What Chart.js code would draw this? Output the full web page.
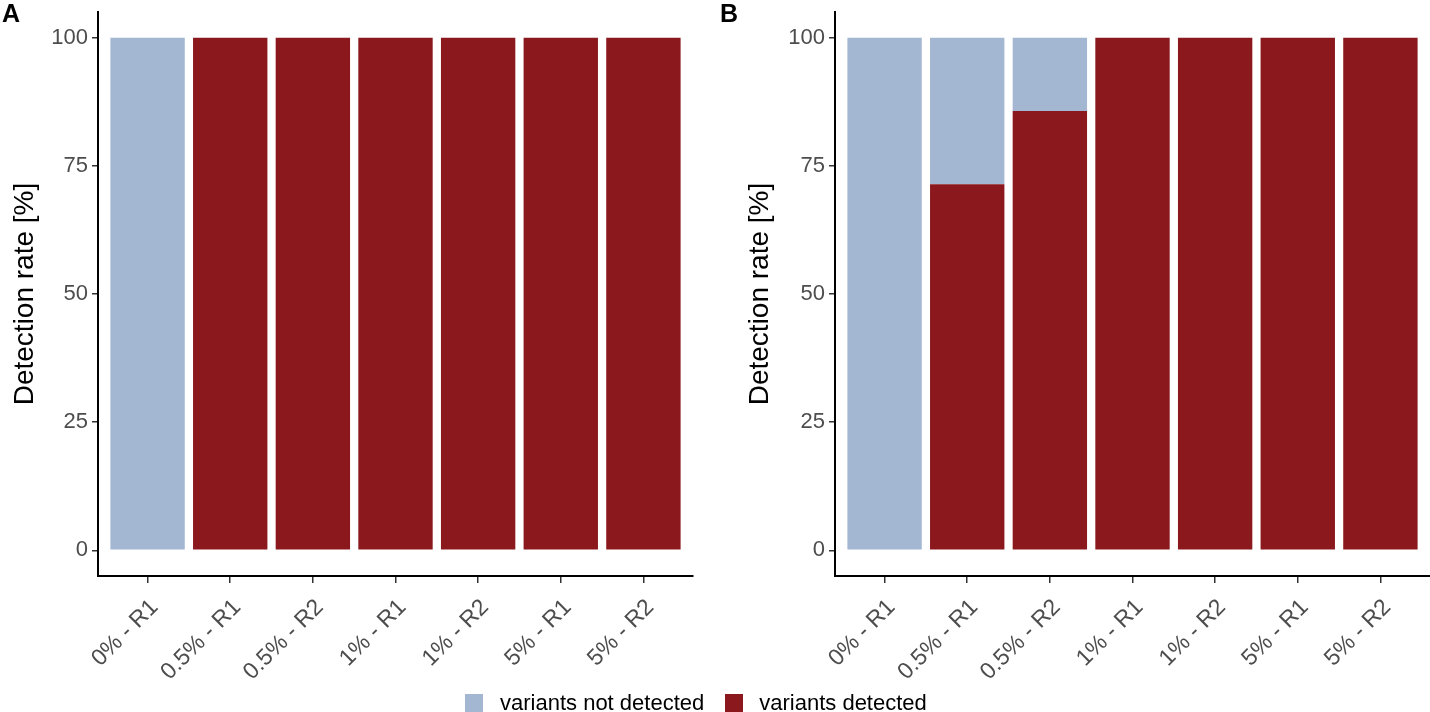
<!DOCTYPE html>
<html>
<head>
<meta charset="utf-8">
<script src="https://cdn.jsdelivr.net/npm/chart.js@4"></script>
<style>
  body { margin: 0; background: #fff; font-family: "Liberation Sans", Arial, sans-serif; }
  #wrap { position: relative; width: 1430px; height: 712px; overflow: hidden; }
  .panel { position: absolute; top: 0; width: 715px; height: 712px; }
  .tag { position: absolute; top: -1px; font-weight: bold; font-size: 25px; }
  #legend { position: absolute; left: 465px; top: 690px; display: flex; align-items: center; font-size: 22px; color: #000; }
  #legend span.box { width: 18px; height: 18px; display: inline-block; }
</style>
</head>
<body>
<div id="wrap">
  <div class="panel" style="left:0"><canvas id="chart-a"></canvas></div>
  <div class="panel" style="left:715px"><canvas id="chart-b"></canvas></div>
  <div class="tag" style="left:2px">A</div>
  <div class="tag" style="left:720px">B</div>
  <div id="legend">
    <span class="box" style="background:#a3b7d3"></span>
    <span style="margin-left:17px">variants not detected</span>
    <span class="box" style="background:#8b181c;margin-left:21px"></span>
    <span style="margin-left:16px">variants detected</span>
  </div>
</div>
<script>
const categories = ['0% - R1', '0.5% - R1', '0.5% - R2', '1% - R1', '1% - R2', '5% - R1', '5% - R2'];
const yTicks = [0, 25, 50, 75, 100];

// panel A
const detectedA = [0, 100, 100, 100, 100, 100, 100];
const notDetectedA = [100, 0, 0, 0, 0, 0, 0];
// panel B
const detectedB = [0, 71.4, 85.7, 100, 100, 100, 100];
const notDetectedB = [100, 28.6, 14.3, 0, 0, 0, 0];

const colDetected = '#8b181c';
const colNotDetected = '#a3b7d3';
const fontFam = '"Liberation Sans", Arial, sans-serif';

function toPoints(values) {
    return values.map((v, i) => ({x: i + 1, y: v}));
}

function make_chart(canvasId, detected, notDetected, yWidth, titlePad, padRight) {
    const canvas = document.getElementById(canvasId);
    return new Chart(canvas, {
        type: 'bar',
        data: {
            datasets: [
                {label: 'variants detected', data: toPoints(detected), backgroundColor: colDetected},
                {label: 'variants not detected', data: toPoints(notDetected), backgroundColor: colNotDetected}
            ]
        },
        options: {
            responsive: true,
            maintainAspectRatio: false,
            animation: false,
            layout: {padding: {top: 12, left: 0, right: padRight, bottom: 0}},
            plugins: {legend: {display: false}, tooltip: {enabled: false}},
            datasets: {bar: {barPercentage: 0.9, categoryPercentage: 1.0}},
            scales: {
                x: {
                    type: 'linear',
                    stacked: true,
                    offset: false,
                    min: 0.4,
                    max: 7.6,
                    afterBuildTicks: (s) => { s.ticks = categories.map((c, i) => ({value: i + 1})); },
                    afterFit: (s) => { s.height = 136; s.paddingLeft = 0; s.paddingRight = 0; },
                    border: {color: '#000', width: 2},
                    grid: {offset: false, drawOnChartArea: false, drawTicks: true, tickLength: 7, color: '#333', lineWidth: 1.5},
                    ticks: {
                        minRotation: 45, maxRotation: 45, autoSkip: false, padding: 11, labelOffset: 7,
                        color: '#4d4d4d', font: {family: fontFam, size: 23},
                        callback: (v) => categories[v - 1]
                    }
                },
                y: {
                    stacked: true,
                    min: -5,
                    max: 105,
                    afterBuildTicks: (s) => { s.ticks = yTicks.map(v => ({value: v})); },
                    afterFit: (s) => { s.width = yWidth; s.paddingTop = 0; s.paddingBottom = 0; },
                    border: {color: '#000', width: 2},
                    grid: {drawOnChartArea: false, drawTicks: true, tickLength: 6, color: '#333', lineWidth: 1.5},
                    ticks: {color: '#4d4d4d', padding: 4, font: {family: fontFam, size: 22}},
                    title: {
                        display: true, text: 'Detection rate [%]', color: '#000',
                        font: {family: fontFam, size: 28}, padding: {top: titlePad, bottom: 0}
                    }
                }
            }
        }
    });
}

make_chart('chart-a', detectedA, notDetectedA, 98, 8, 22);
make_chart('chart-b', detectedB, notDetectedB, 120, 28, 0);
</script>
</body>
</html>
